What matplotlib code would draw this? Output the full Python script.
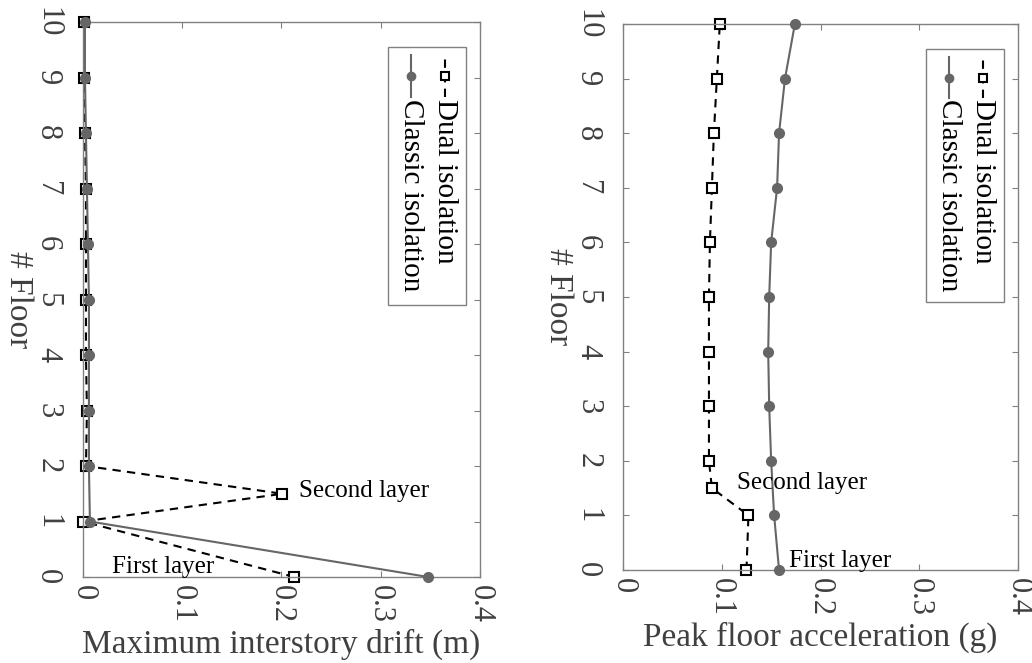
import numpy as np
import matplotlib.pyplot as plt
from matplotlib.lines import Line2D
from matplotlib.patches import Rectangle

plt.rcParams['font.family'] = ['Liberation Serif', 'DejaVu Serif']

# data
floors_classic = [0, 1, 2, 3, 4, 5, 6, 7, 8, 9, 10]
floors_dual = [0, 1, 1.5, 2, 3, 4, 5, 6, 7, 8, 9, 10]

drift_classic = [0.348, 0.007, 0.006, 0.006, 0.006, 0.006, 0.005, 0.004, 0.003, 0.002, 0.002]
drift_dual = [0.213, 0.0, 0.201, 0.003, 0.004, 0.003, 0.003, 0.003, 0.003, 0.002, 0.0015, 0.001]

acc_classic = [0.158, 0.153, 0.150, 0.148, 0.147, 0.148, 0.150, 0.156, 0.158, 0.164, 0.174]
acc_dual = [0.125, 0.127, 0.090, 0.087, 0.087, 0.087, 0.087, 0.088, 0.090, 0.092, 0.095, 0.098]

xticks = [0, 0.1, 0.2, 0.3, 0.4]
xticklabels = ['0', '0.1', '0.2', '0.3', '0.4']
yticks = list(range(11))

txt = '#404040'
spine = '#808080'
gray = '#666666'

fig = plt.figure(figsize=(10.32, 6.63), dpi=100)
ax1 = fig.add_axes([0.0804, 0.1297, 0.3847, 0.8371])
ax2 = fig.add_axes([0.6037, 0.1403, 0.3828, 0.8235])


def setup(ax, xlabel):
    ax.set_xlim(0, 0.4)
    ax.set_ylim(0, 10)
    ax.set_xticks(xticks)
    ax.set_xticklabels(xticklabels, rotation=-90, va='top', ha='center')
    ax.set_yticks(yticks)
    ax.set_yticklabels([str(v) for v in yticks], rotation=-90, va='center', ha='right')
    ax.tick_params(direction='in', length=4, top=True, right=True,
                   labelsize=22, colors=spine, labelcolor=txt, width=0.8)
    ax.tick_params(axis='x', pad=6)
    ax.tick_params(axis='y', pad=15)
    for s in ax.spines.values():
        s.set_color(spine)
        s.set_linewidth(1.0)
    ax.set_xlabel(xlabel, fontsize=24, color=txt, labelpad=4)
    ax.set_ylabel('# Floor', fontsize=24, color=txt, rotation=-90, labelpad=22)


def legend(ax):
    ax.add_patch(Rectangle((0.768, 0.49), 0.196, 0.465, transform=ax.transAxes,
                           facecolor='white', edgecolor=spine, lw=1.0, zorder=5))
    ax.add_line(Line2D([0.912, 0.912], [0.865, 0.94], transform=ax.transAxes,
                       color='k', lw=1.5, dashes=(4, 3), zorder=6))
    ax.add_line(Line2D([0.912], [0.902], transform=ax.transAxes, color='k',
                       marker='s', ms=6, mfc='white', mew=1.5, zorder=7))
    ax.add_line(Line2D([0.826, 0.826], [0.865, 0.94], transform=ax.transAxes,
                       color=gray, lw=1.5, zorder=6))
    ax.add_line(Line2D([0.826], [0.902], transform=ax.transAxes, color=gray,
                       marker='o', ms=6, zorder=7))
    ax.text(0.912, 0.862, 'Dual isolation', transform=ax.transAxes, rotation=-90,
            ha='center', va='top', fontsize=21, color='k', zorder=8)
    ax.text(0.826, 0.862, 'Classic isolation', transform=ax.transAxes, rotation=-90,
            ha='center', va='top', fontsize=21, color='k', zorder=8)


# left: drift
ax1.plot(drift_classic, floors_classic, '-', color=gray, lw=1.5, marker='o',
         ms=7, mfc=gray, mec=gray, clip_on=False, zorder=3)
ax1.plot(drift_dual, floors_dual, color='k', lw=1.5, dashes=(4, 3),
         marker='s', ms=6.5, mfc='white', mec='k', mew=1.5, clip_on=False, zorder=2)
ax1.text(0.218, 1.55, 'Second layer', fontsize=18, color='k', ha='left', va='center')
ax1.text(0.029, 0.18, 'First layer', fontsize=18, color='k', ha='left', va='center')
setup(ax1, 'Maximum interstory drift (m)')
legend(ax1)

# right: acceleration
ax2.plot(acc_dual, floors_dual, color='k', lw=1.5, dashes=(4, 3),
         marker='s', ms=6.5, mfc='white', mec='k', mew=1.5, clip_on=False, zorder=2)
ax2.plot(acc_classic, floors_classic, '-', color=gray, lw=1.5, marker='o',
         ms=7, mfc=gray, mec=gray, clip_on=False, zorder=3)
ax2.text(0.1155, 1.6, 'Second layer', fontsize=18, color='k', ha='left', va='center')
ax2.text(0.168, 0.17, 'First layer', fontsize=18, color='k', ha='left', va='center')
setup(ax2, 'Peak floor acceleration (g)')
legend(ax2)

fig.savefig('out.png', dpi=100)
